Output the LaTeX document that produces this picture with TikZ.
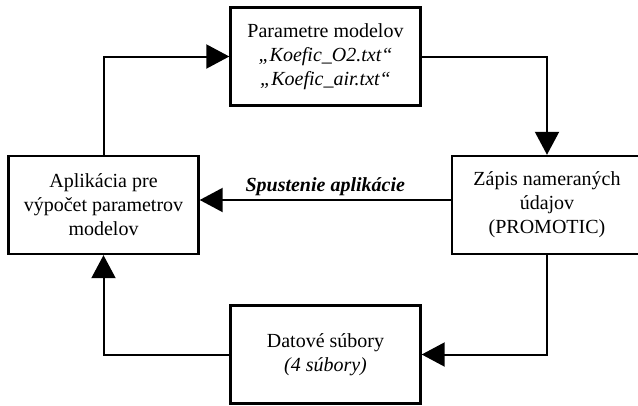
\documentclass[tikz,border=0pt]{standalone}
\usepackage{fontspec}
\setmainfont{Liberation Serif}
\usetikzlibrary{arrows.meta}

\tikzset{
    box/.style={draw, line width=2.4pt, align=center, minimum width=190pt, minimum height=98pt,
        font=\fontsize{20}{24}\selectfont},
    arr/.style={line width=2pt, -{Triangle[length=23pt,width=24pt]}}
}

\begin{document}
\begin{tikzpicture}[x=1pt, y=-1pt]
        \clip (0, 0) rectangle (638, 405);
        \node[box] (param) at (325.5, 56.5) {Parametre modelov\\ \textit{„Koefic\_O2.txt“}\\ \textit{„Koefic\_air.txt“}};
        \node[box] (aplik) at (103.5, 205) {Aplikácia pre\\ výpočet parametrov\\ modelov};
        \node[box] (zapis) at (547, 205) {Zápis nameraných\\ údajov\\ (PROMOTIC)};
        \node[box] (data) at (325.5, 354.5) {Datové súbory\\ \textit{(4 súbory)}};

        \draw[arr] (aplik.north) |- (param.west);
        \draw[arr] (param.east) -| (zapis.north);
        \draw[arr] ([yshift=5pt]zapis.west) -- node[above, font=\fontsize{20}{24}\selectfont\bfseries\itshape] (spust) {Spustenie aplikácie} ([yshift=5pt]aplik.east);
        \draw[arr] (zapis.south) |- (data.east);
        \draw[arr] (data.west) -| (aplik.south);
    \end{tikzpicture}
\end{document}
